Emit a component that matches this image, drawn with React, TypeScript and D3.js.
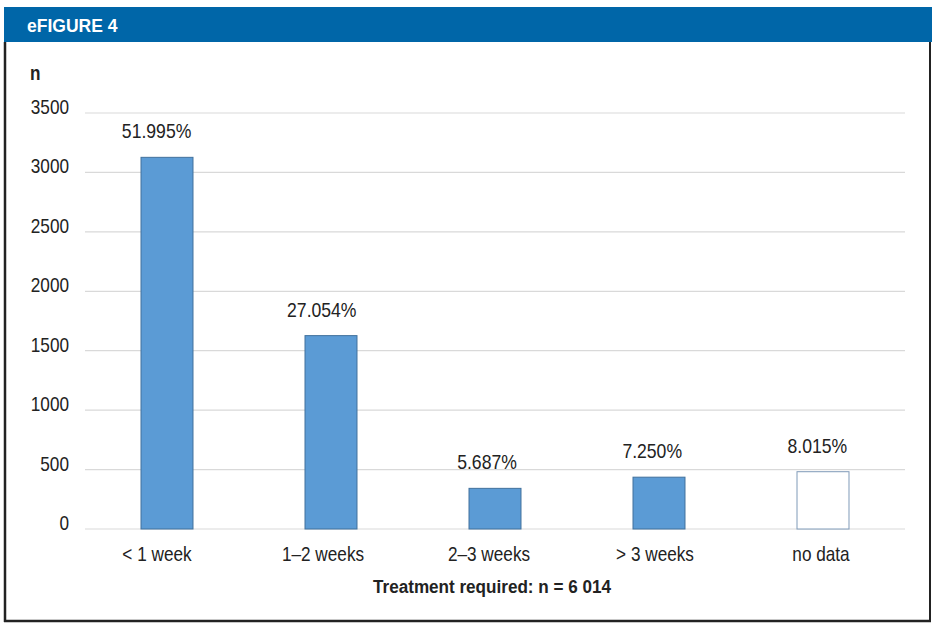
import React from "react";
import * as d3 from "d3";

const categories = ["< 1 week", "1–2 weeks", "2–3 weeks", "> 3 weeks", "no data"];
const counts = [3127, 1627, 342, 436, 482];
const percentLabels = ["51.995%", "27.054%", "5.687%", "7.250%", "8.015%"];
const yTicks = [0, 500, 1000, 1500, 2000, 2500, 3000, 3500];

function CText({ x, y, sx = 0.86, children, ...rest }: any) {
  return (
    <text transform={`translate(${x},${y}) scale(${sx},1)`} {...rest}>{children}</text>
  );
}

export default function App() {
  const W = 932, H = 629;
  const x = d3.scaleBand<string>().domain(categories).range([85, 905]).paddingInner(0.683).paddingOuter(0.3415);
  const xCat = d3.scaleBand<string>().domain(categories).range([74, 904]);
  const xPct = d3.scaleBand<string>().domain(categories).range([74, 900]);
  const y = d3.scaleLinear().domain([0, 3500]).range([529, 113]);
  const font = "'Liberation Sans', Arial, sans-serif";
  const fs = 20;
  return (
    <svg width={W} height={H} style={{ position: "absolute", left: 0, top: 0, background: "#fff" }} fontFamily={font}>
      <rect x={0} y={0} width={W} height={H} fill="#fff" />
      <rect x={4} y={7} width={928} height={35} fill="#0066a8" />
      <text x={27} y={32} fill="#fff" fontWeight="bold" fontSize={17.5}>eFIGURE 4</text>
      <line x1={5} y1={42} x2={5} y2={622} stroke="#222" strokeWidth={2.5} />
      <line x1={4} y1={621} x2={931} y2={621} stroke="#222" strokeWidth={2.5} />
      <line x1={930} y1={42} x2={930} y2={622} stroke="#222" strokeWidth={2} />
      <CText x={30} y={80} fontWeight="bold" fontSize={fs} fill="#222">n</CText>
      {yTicks.map((t) => (
        <g key={t}>
          <line x1={85} x2={905} y1={y(t)} y2={y(t)} stroke="#d9d9d9" strokeWidth={1.2} />
          <CText x={69} y={y(t) + 1} textAnchor="end" fontSize={fs} fill="#222">{t}</CText>
        </g>
      ))}
      {categories.map((c, i) => {
        const isNoData = i === categories.length - 1;
        const bx = x(c)!;
        const by = y(counts[i]);
        return (
          <g key={c}>
            <rect x={bx} y={by} width={x.bandwidth()} height={y(0) - by}
              fill={isNoData ? "#fff" : "#5b9bd5"} stroke={isNoData ? "#7f9ab8" : "#41719c"} strokeWidth={1} />
            <CText x={xPct(c)! + xPct.bandwidth() / 2} y={by - 19} sx={0.88} textAnchor="middle" fontSize={fs} fill="#222">{percentLabels[i]}</CText>
            <CText x={xCat(c)! + xCat.bandwidth() / 2} y={561} textAnchor="middle" fontSize={fs} fill="#222">{c}</CText>
          </g>
        );
      })}
      <CText x={492} y={593} sx={0.9} textAnchor="middle" fontWeight="bold" fontSize={19} fill="#222">Treatment required: n = 6 014</CText>
    </svg>
  );
}
